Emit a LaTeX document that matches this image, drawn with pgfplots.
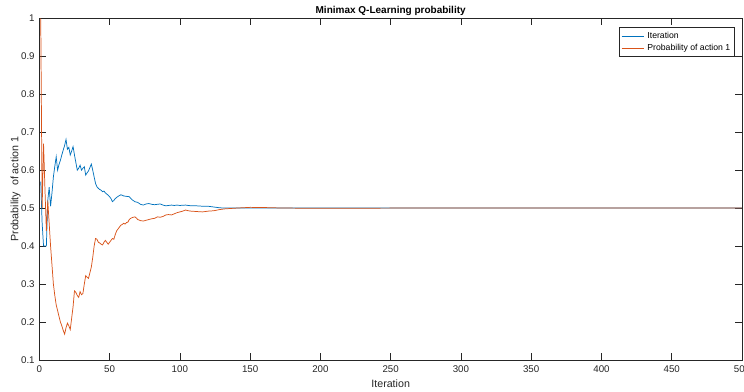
\documentclass[border=0pt]{standalone}
\usepackage{pgfplots}
\pgfplotsset{compat=1.18}
\usepackage{fontspec}
\setmainfont{Liberation Sans}
\definecolor{mblue}{rgb}{0,0.447,0.741}
\definecolor{morange}{rgb}{0.85,0.325,0.098}
\definecolor{axgray}{rgb}{0.15,0.15,0.15}
\begin{document}
\begin{tikzpicture}
\begin{axis}[
  at={(0,0)}, anchor=south west,
  scale only axis, width=527pt, height=256.3pt,
  xmin=0, xmax=500, ymin=0.1, ymax=1,
  xtick={0,50,...,500},
  ytick={0.1,0.2,0.3,0.4,0.5,0.6,0.7,0.8,0.9,1},
  tick align=inside, major tick length=5pt,
  axis line style={axgray, line width=0.5pt},
  tick style={axgray, line width=0.5pt},
  /pgf/number format/assume math mode=true,
  ticklabel style={font=\fontsize{7.3}{8}\selectfont, text=axgray},
  xticklabel style={yshift=-1pt},
  title={\textbf{Minimax Q-Learning probability}},
  title style={font=\fontsize{7.5}{9}\selectfont, yshift=-7.5pt},
  xlabel={Iteration}, ylabel={Probability\ \ of action 1},
  label style={font=\fontsize{8}{9}\selectfont, text=axgray},
  xlabel style={yshift=1.5pt},
  ylabel style={yshift=-6.5pt},
  legend style={at={(rel axis cs:0.99,0.973)}, anchor=north east, draw=axgray, line width=0.4pt,
    font=\fontsize{6.5}{7.5}\selectfont, row sep=-1.5pt, inner sep=1.3pt, cells={anchor=west}},
  legend image post style={line width=0.6pt},
  legend cell align=left,
]
\addplot[mblue, line width=0.55pt] coordinates {
(1,0.57)(2,0.46)(3,0.4)(4,0.4)(5,0.4)(6,0.52)(7,0.555)(8,0.505)(9,0.54)(10,0.582)
(11,0.61)(12,0.635)(13,0.6)(14,0.615)(15,0.626)(16,0.64)(17,0.653)(18,0.665)(19,0.681)(20,0.655)
(21,0.66)(22,0.64)(23,0.65)(24,0.662)(25,0.64)(26,0.62)(27,0.6)(28,0.605)(29,0.613)(30,0.6)
(31,0.605)(32,0.609)(33,0.587)(34,0.593)(35,0.598)(36,0.607)(37,0.616)(38,0.6)(39,0.582)(40,0.565)
(41,0.556)(42,0.552)(43,0.549)(44,0.547)(45,0.543)(46,0.545)(47,0.54)(48,0.537)(49,0.534)(50,0.53)
(51,0.525)(52,0.517)(53,0.52)(54,0.525)(55,0.528)(56,0.531)(57,0.533)(58,0.535)(59,0.534)(60,0.532)
(62,0.531)(64,0.53)(66,0.522)(68,0.517)(70,0.515)(72,0.51)(74,0.508)(76,0.511)(78,0.512)(80,0.51)
(82,0.509)(84,0.51)(86,0.511)(88,0.508)(90,0.506)(92,0.507)(94,0.508)(96,0.507)(98,0.508)(100,0.507)
(104,0.508)(108,0.506)(112,0.506)(116,0.505)(120,0.505)(124,0.503)(128,0.501)(132,0.5)(140,0.5)
(150,0.5005)(160,0.5005)(180,0.5)(200,0.5)(250,0.5)(500,0.5)
};
\addlegendentry{Iteration}
\addplot[morange, line width=0.55pt] coordinates {
(1,1.0)(2,0.5)(3,0.67)(4,0.55)(5,0.44)(6,0.52)(7,0.46)(8,0.4)(9,0.35)(10,0.3)
(11,0.27)(12,0.245)(13,0.23)(14,0.215)(15,0.2)(16,0.19)(17,0.178)(18,0.168)(19,0.185)(20,0.197)
(21,0.19)(22,0.18)(23,0.21)(24,0.24)(25,0.282)(26,0.278)(27,0.27)(28,0.265)(29,0.28)(30,0.272)
(31,0.275)(32,0.3)(33,0.322)(34,0.318)(35,0.315)(36,0.33)(37,0.345)(38,0.37)(39,0.4)(40,0.42)
(41,0.418)(42,0.41)(43,0.408)(44,0.405)(45,0.403)(46,0.41)(47,0.415)(48,0.41)(49,0.405)(50,0.41)
(51,0.415)(52,0.42)(53,0.418)(54,0.43)(55,0.44)(56,0.445)(57,0.45)(58,0.455)(59,0.457)(60,0.46)
(61,0.458)(62,0.462)(63,0.463)(64,0.47)(65,0.473)(66,0.475)(67,0.476)(68,0.477)(69,0.474)(70,0.47)
(72,0.467)(74,0.466)(76,0.468)(78,0.47)(80,0.472)(82,0.473)(84,0.477)(86,0.476)(88,0.478)(90,0.482)
(92,0.483)(94,0.482)(96,0.485)(98,0.488)(100,0.49)(102,0.492)(104,0.495)(106,0.493)(108,0.492)
(112,0.491)(116,0.49)(120,0.492)(124,0.493)(128,0.496)(132,0.498)(136,0.499)(140,0.5)(145,0.501)
(150,0.502)(160,0.5015)(170,0.5005)(180,0.5)(200,0.4995)(220,0.4998)(250,0.5)(500,0.5)
};
\addlegendentry{Probability of action 1}
\end{axis}
\pgfresetboundingbox
\path[use as bounding box] (-29.5pt,-24pt) rectangle (528.5pt,270pt);
\end{tikzpicture}
\end{document}
